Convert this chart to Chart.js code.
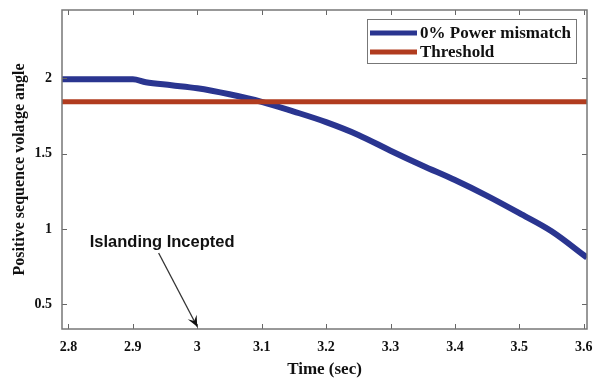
<!DOCTYPE html>
<html>
<head>
<meta charset="utf-8">
<script src="https://cdn.jsdelivr.net/npm/chart.js@4.4.1/dist/chart.umd.min.js"></script>
<style>
  html, body { margin: 0; padding: 0; background: #ffffff; }
  #wrap { width: 595px; height: 383px; }
</style>
</head>
<body>
<div id="wrap"><canvas id="c" width="595" height="383"></canvas></div>
<script>
// ---- data ----
const timeValues  = [2.79, 2.90, 2.92, 2.96, 3.00, 3.05, 3.10, 3.15, 3.20, 3.25, 3.30, 3.35, 3.40, 3.45, 3.50, 3.55, 3.605];
const angleValues = [1.995, 1.995, 1.975, 1.955, 1.935, 1.895, 1.845, 1.78, 1.71, 1.625, 1.52, 1.42, 1.325, 1.22, 1.105, 0.985, 0.81];
const thresholdValue = 1.845;
const xTickValues = [2.8, 2.9, 3.0, 3.1, 3.2, 3.3, 3.4, 3.5, 3.6];
const yTickValues = [0.5, 1, 1.5, 2];
const seriesLabels = ['0% Power mismatch', 'Threshold'];
const xRange = [2.79, 3.605];
const yRange = [0.335, 2.455];
const annotationText = 'Islanding Incepted';
const annotationTextAt = [2.833, 0.91];
const annotationArrowFrom = [2.94, 0.84];
const annotationArrowTo = [3.0, 0.35];

const serif = '"Liberation Serif", "Times New Roman", serif';
const sans = '"Liberation Sans", Arial, sans-serif';

const boxPlugin = {
  id: 'matlabBox',
  afterDatasetsDraw(chart) {
    const { ctx, chartArea: a, scales } = chart;
    ctx.save();
    // inward ticks on all four sides
    ctx.strokeStyle = '#666';
    ctx.lineWidth = 1;
    const tl = 5;
    xTickValues.forEach(v => {
      const px = Math.round(scales.x.getPixelForValue(v)) + 0.5;
      ctx.beginPath();
      ctx.moveTo(px, a.bottom); ctx.lineTo(px, a.bottom - tl);
      ctx.moveTo(px, a.top); ctx.lineTo(px, a.top + tl);
      ctx.stroke();
    });
    yTickValues.forEach(v => {
      const py = Math.round(scales.y.getPixelForValue(v)) + 0.5;
      ctx.beginPath();
      ctx.moveTo(a.left, py); ctx.lineTo(a.left + tl, py);
      ctx.moveTo(a.right, py); ctx.lineTo(a.right - tl, py);
      ctx.stroke();
    });
    // box
    ctx.strokeStyle = '#777';
    ctx.lineWidth = 1.5;
    ctx.strokeRect(a.left, a.top, a.right - a.left, a.bottom - a.top);

    // annotation
    const tx = scales.x.getPixelForValue(annotationTextAt[0]);
    const ty = scales.y.getPixelForValue(annotationTextAt[1]);
    ctx.fillStyle = '#111';
    ctx.font = 'bold 16.5px ' + sans;
    ctx.textAlign = 'left';
    ctx.textBaseline = 'middle';
    ctx.fillText(annotationText, tx, ty);

    const x1 = scales.x.getPixelForValue(annotationArrowFrom[0]);
    const y1 = scales.y.getPixelForValue(annotationArrowFrom[1]);
    const x2 = scales.x.getPixelForValue(annotationArrowTo[0]);
    const y2 = scales.y.getPixelForValue(annotationArrowTo[1]);
    ctx.strokeStyle = '#333';
    ctx.lineWidth = 1.3;
    ctx.beginPath(); ctx.moveTo(x1, y1); ctx.lineTo(x2, y2); ctx.stroke();
    const ang = Math.atan2(y2 - y1, x2 - x1);
    const hl = 11, hw = 5;
    ctx.fillStyle = '#111';
    ctx.beginPath();
    ctx.moveTo(x2, y2);
    ctx.lineTo(x2 - hl * Math.cos(ang) + hw * Math.sin(ang), y2 - hl * Math.sin(ang) - hw * Math.cos(ang));
    ctx.lineTo(x2 - hl * 0.6 * Math.cos(ang), y2 - hl * 0.6 * Math.sin(ang));
    ctx.lineTo(x2 - hl * Math.cos(ang) - hw * Math.sin(ang), y2 - hl * Math.sin(ang) + hw * Math.cos(ang));
    ctx.closePath();
    ctx.fill();

    // legend box
    const ds = chart.data.datasets;
    const bw = 209, bh = 44;
    const bx = a.right - 11 - bw, by = a.top + 9;
    ctx.fillStyle = '#fff';
    ctx.fillRect(bx, by, bw, bh);
    ctx.strokeStyle = '#777';
    ctx.lineWidth = 1;
    ctx.strokeRect(bx + 0.5, by + 0.5, bw, bh);
    ctx.font = 'bold 17px ' + serif;
    ctx.textBaseline = 'middle';
    ds.forEach((d, i) => {
      const ly = by + 14 + i * 19;
      ctx.strokeStyle = d.borderColor;
      ctx.lineWidth = 5;
      ctx.beginPath(); ctx.moveTo(bx + 3, ly); ctx.lineTo(bx + 50, ly); ctx.stroke();
      ctx.fillStyle = '#111';
      ctx.fillText(d.label, bx + 53, ly + 0.5);
    });
    ctx.restore();
  }
};

const bgPlugin = {
  id: 'bg',
  beforeDraw(chart) {
    const { ctx } = chart;
    ctx.save(); ctx.fillStyle = '#fff'; ctx.fillRect(0, 0, chart.width, chart.height); ctx.restore();
  }
};

const fmt = v => String(Math.round(v * 10) / 10);

new Chart(document.getElementById('c'), {
  type: 'line',
  data: {
    datasets: [
      {
        label: seriesLabels[0],
        data: timeValues.map((t, i) => ({ x: t, y: angleValues[i] })),
        borderColor: '#2a3590',
        borderWidth: 6,
        pointRadius: 0,
        cubicInterpolationMode: 'monotone',
        order: 2
      },
      {
        label: seriesLabels[1],
        data: xRange.map(t => ({ x: t, y: thresholdValue })),
        borderColor: '#b13c1f',
        borderWidth: 5,
        pointRadius: 0,
        order: 1
      }
    ]
  },
  options: {
    responsive: false,
    animation: false,
    layout: { padding: { top: 10, right: 8, left: 0, bottom: 0 } },
    plugins: { legend: { display: false }, tooltip: { enabled: false } },
    scales: {
      x: {
        type: 'linear',
        min: xRange[0], max: xRange[1],
        afterBuildTicks: s => { s.ticks = xTickValues.map(v => ({ value: v })); },
        afterFit: s => { s.height = 54; s.paddingLeft = 0; s.paddingRight = 0; },
        grid: { display: false, drawTicks: false },
        border: { display: false },
        ticks: { callback: fmt, color: '#111', font: { family: serif, size: 14, weight: 'bold' }, padding: 10, maxRotation: 0 },
        title: { display: true, text: 'Time (sec)', color: '#111', font: { family: serif, size: 17, weight: 'bold' }, padding: { top: 0, bottom: 3 } }
      },
      y: {
        type: 'linear',
        min: yRange[0], max: yRange[1],
        afterBuildTicks: s => { s.ticks = yTickValues.map(v => ({ value: v })); },
        afterFit: s => { s.width = 62; s.paddingTop = 0; s.paddingBottom = 0; },
        grid: { display: false, drawTicks: false },
        border: { display: false },
        ticks: { callback: fmt, color: '#111', font: { family: serif, size: 14, weight: 'bold' }, padding: 10 },
        title: { display: true, text: 'Positive sequence volatge angle', color: '#111', font: { family: serif, size: 16, weight: 'bold' }, padding: { top: 10, bottom: 0 } }
      }
    }
  },
  plugins: [bgPlugin, boxPlugin]
});
</script>
</body>
</html>
